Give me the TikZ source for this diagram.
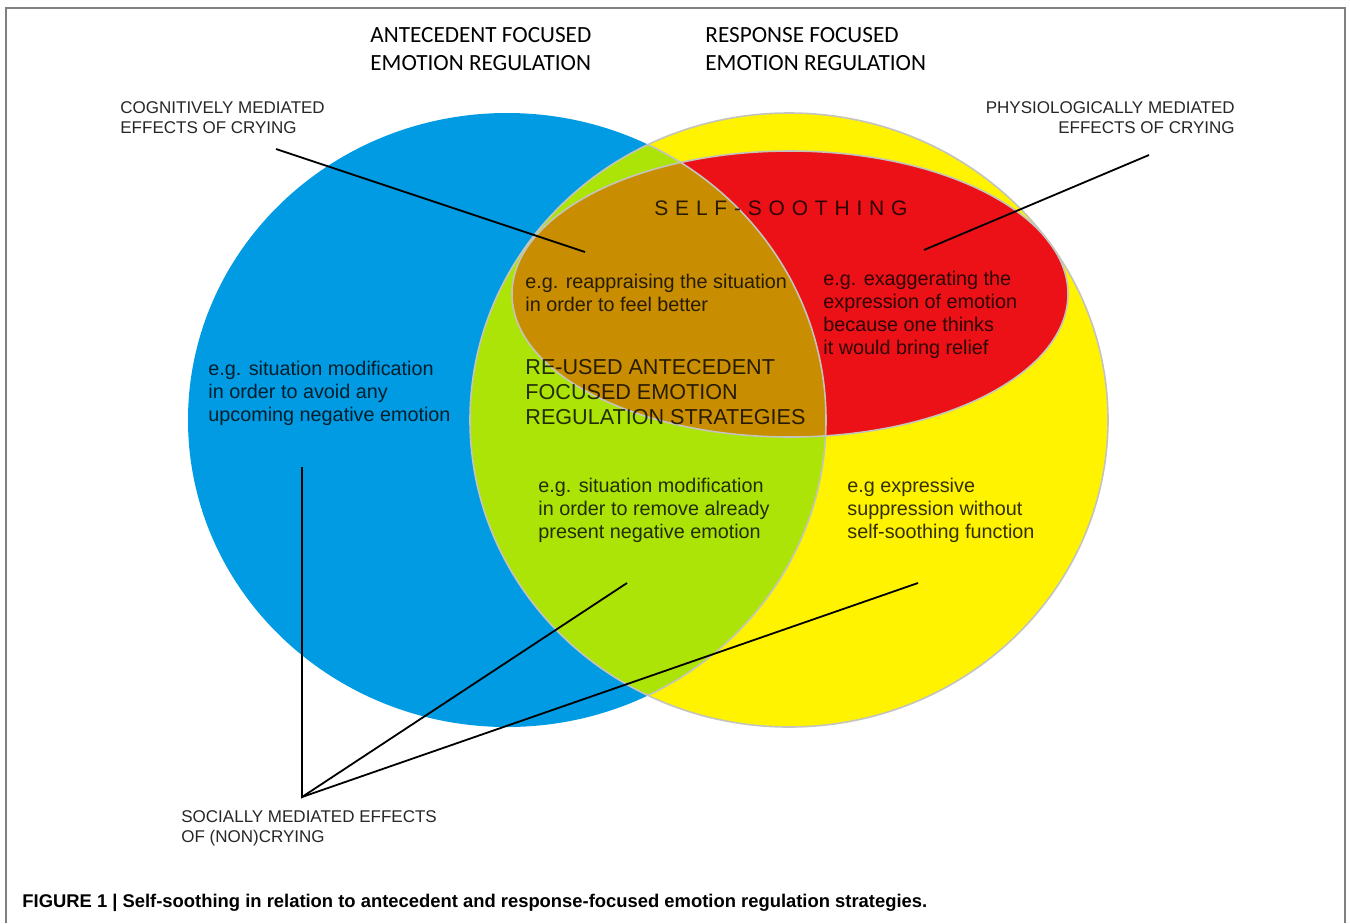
\documentclass[tikz,border=0pt]{standalone}
\usepackage{fontspec}
\setmainfont{Liberation Sans}
\newfontfamily\hdfont{Carlito}
\definecolor{antblue}{RGB}{0,155,226}
\definecolor{respyellow}{RGB}{255,243,0}
\definecolor{mixgreen}{RGB}{173,228,8}
\definecolor{soothred}{RGB}{236,17,22}
\definecolor{soothbrown}{RGB}{200,141,0}
\definecolor{rimgray}{RGB}{196,196,190}
\tikzstyle{hdtext} = [font=\hdfont\fontsize{11.6}{14}\selectfont, align=left, inner sep=0, text=black]
\tikzstyle{captext} = [font=\fontsize{8.5}{10}\selectfont, inner sep=0, text=black!85]
\tikzstyle{egtext} = [font=\fontsize{9.9}{11.5}\selectfont, align=left, inner sep=0, text=black, text opacity=0.8]
\tikzstyle{bigtext} = [font=\fontsize{10.8}{12.5}\selectfont, align=left, inner sep=0, text=black, text opacity=0.8]
\tikzstyle{figcap} = [font=\bfseries\fontsize{9.2}{11}\selectfont, anchor=west, inner sep=0]
\tikzstyle{rim} = [draw=rimgray, line width=0.8pt]
\tikzstyle{leader} = [line width=0.9pt, black]
\def\ls{\kern3.4pt}

\begin{document}
\begin{tikzpicture}[x=0.5pt,y=-0.5pt]
  \useasboundingbox (0,0) rectangle (1350,923);
  \draw [gray, line width=0.8pt] (6,923) -- (6,8) -- (1345,8) -- (1345,923);

  \coordinate (ANTC) at (507,420);
  \coordinate (RESC) at (789,420);
  \coordinate (SOOC) at (790,294);

  % the three sets
  \fill [antblue] (ANTC) ellipse [x radius=319, y radius=307];
  \fill [respyellow] (RESC) ellipse [x radius=319, y radius=307];
  \begin{scope}
    \clip (ANTC) ellipse [x radius=319, y radius=307];
    \fill [mixgreen] (RESC) ellipse [x radius=319, y radius=307];
  \end{scope}
  \fill [soothred] (SOOC) ellipse [x radius=278, y radius=143];
  \begin{scope}
    \clip (ANTC) ellipse [x radius=319, y radius=307];
    \fill [soothbrown] (SOOC) ellipse [x radius=278, y radius=143];
  \end{scope}
  \draw [rim] (RESC) ellipse [x radius=319, y radius=307];
  \begin{scope}
    \clip (RESC) ellipse [x radius=319, y radius=307];
    \draw [rim] (ANTC) ellipse [x radius=319, y radius=307];
  \end{scope}
  \draw [rim] (SOOC) ellipse [x radius=278, y radius=143];

  % headings and labels
  \node (ANTE) [hdtext, anchor=west] at (370,49) {ANTECEDENT FOCUSED\\EMOTION REGULATION};
  \node (RESP) [hdtext, anchor=west] at (705,49) {RESPONSE FOCUSED\\EMOTION REGULATION};
  \node (COGN) [captext, align=left, anchor=west] at (120,118) {COGNITIVELY MEDIATED\\EFFECTS OF CRYING};
  \node (PHYS) [captext, align=right, anchor=east] at (1235,118) {PHYSIOLOGICALLY MEDIATED\\EFFECTS OF CRYING};
  \node (SOCI) [captext, align=left, anchor=west] at (181,828) {SOCIALLY MEDIATED EFFECTS\\OF (NON)CRYING};

  \node (SELF) [egtext, font=\fontsize{10.5}{12}\selectfont, anchor=west] at (654,208) {S\ls E\ls L\ls F\ls -\ls S\ls O\ls O\ls T\ls H\ls I\ls N\ls G};
  \node (REAP) [egtext, anchor=west] at (525,293) {e.g. reappraising the situation\\in order to feel better};
  \node (EXAG) [egtext, anchor=west] at (823,315) {e.g. exaggerating the\\expression of emotion\\because one thinks\\it would bring relief};
  \node (AVOI) [egtext, anchor=west] at (208,393) {e.g. situation modification\\in order to avoid any\\upcoming negative emotion};
  \node (REUS) [bigtext, anchor=west] at (525,392) {RE-USED ANTECEDENT\\FOCUSED EMOTION\\REGULATION STRATEGIES};
  \node (REMO) [egtext, anchor=west] at (538,510) {e.g. situation modification\\in order to remove already\\present negative emotion};
  \node (SUPP) [egtext, anchor=west] at (847,510) {e.g expressive\\suppression without\\self-soothing function};

  % leader lines
  \coordinate (COGa) at (276,149);
  \coordinate (COGb) at (585,252);
  \coordinate (PHYa) at (1149,155);
  \coordinate (PHYb) at (924,250);
  \coordinate (SOCa) at (302,797);
  \coordinate (SOCb) at (302,467);
  \coordinate (SOCc) at (627,583);
  \coordinate (SOCd) at (918,583);
  \draw [leader] (COGa) -- (COGb);
  \draw [leader] (PHYa) -- (PHYb);
  \draw [leader] (SOCb) -- (SOCa) -- (SOCc);
  \draw [leader] (SOCa) -- (SOCd);

  \node (CAPT) [figcap] at (22,903) {FIGURE 1 | Self-soothing in relation to antecedent and response-focused emotion regulation strategies.};
\end{tikzpicture}
\end{document}
